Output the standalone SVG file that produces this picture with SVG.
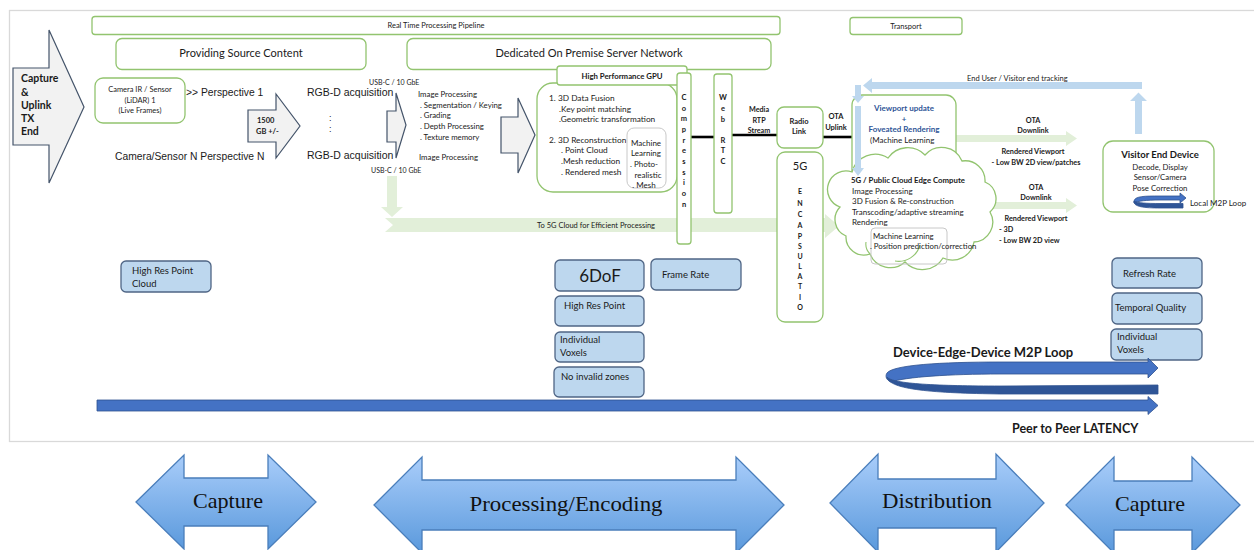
<svg xmlns="http://www.w3.org/2000/svg" width="1254" height="550" viewBox="0 0 1254 550">
<defs>
<style>
.t{font-family:Lato,"Liberation Sans",sans-serif;fill:#1a1a1a}
.a{font-family:"Liberation Sans",Arial,sans-serif;fill:#1a1a1a}
.b{font-weight:bold}
.g{fill:#fff;stroke:#92c46f;stroke-width:1.3}
.bb{fill:#bdd7ee;stroke:#4f6585;stroke-width:1.3}
.gr{fill:#f2f2f2;stroke:#44546a;stroke-width:1.2}
.lg{fill:#e2efd9;stroke:none}
.lb{fill:#bdd7ee;stroke:none}
.blk{stroke:#000;stroke-width:2.6}
.da{fill:url(#gb);stroke:#4a7ebb;stroke-width:1.3}
.ser{font-family:"Liberation Serif","DejaVu Serif",serif;fill:#111;font-size:21px}
</style>
<linearGradient id="gb" x1="0" y1="0" x2="0" y2="1">
<stop offset="0" stop-color="#a9cdfa"/>
<stop offset="1" stop-color="#5a99dc"/>
</linearGradient>
</defs>
<rect width="1254" height="550" fill="#fff"/>
<rect x="9.5" y="10.5" width="1260" height="431" fill="none" stroke="#d9d9d9" stroke-width="1.3"/>

<g id="capture-uplink">
<path class="gr" d="M13,68 L49,68 L49,30 L84,107 L49,183 L49,145 L13,145 Z"/>
<text class="t b" font-size="10.5"><tspan x="21" y="82">Capture</tspan><tspan x="21" y="96">&amp;</tspan><tspan x="21" y="109">Uplink</tspan><tspan x="21" y="122">TX</tspan><tspan x="21" y="135">End</tspan></text>
</g>

<g id="pipeline">
<rect class="g" x="92" y="16.5" width="688" height="18" rx="3"/>
<text class="t" font-size="7.5" x="436" y="28" text-anchor="middle">Real Time Processing Pipeline</text>
</g>
<g id="transport">
<rect class="g" x="850" y="17.5" width="112" height="17" rx="3"/>
<text class="t" font-size="7.5" x="906" y="28.5" text-anchor="middle">Transport</text>
</g>
<g id="source-content">
<rect class="g" x="116" y="38.5" width="250" height="31" rx="6"/>
<text class="t" font-size="11" x="241" y="57" text-anchor="middle">Providing Source Content</text>
</g>
<g id="server-network">
<rect class="g" x="407" y="38.5" width="364" height="31" rx="6"/>
<text class="t" font-size="11" x="589" y="57" text-anchor="middle">Dedicated On Premise Server Network</text>
</g>

<g id="camera">
<rect class="g" x="95" y="78" width="90" height="45" rx="8"/>
<text class="t" font-size="7.5" text-anchor="middle"><tspan x="140" y="92">Camera IR / Sensor</tspan><tspan x="140" y="103">(LiDAR) 1</tspan><tspan x="140" y="113">(Live Frames)</tspan></text>
</g>
<g id="perspectives">
<text class="a" font-size="10.3" x="186" y="96">&gt;&gt; Perspective 1</text>
<text class="a" font-size="10.3" x="115" y="160">Camera/Sensor N  Perspective N</text>
</g>
<g id="arrow-1500">
<path class="gr" d="M248,110 L276,110 L276,94 L300,126 L276,158 L276,142 L248,142 Z"/>
<text class="t b" font-size="7.5"><tspan x="257" y="123">1500</tspan><tspan x="256" y="134">GB +/-</tspan></text>
</g>
<g id="rgbd">
<text class="a" font-size="10.5" x="307" y="96">RGB-D acquisition</text>
<text class="a" font-size="10.5" x="307" y="159">RGB-D acquisition</text>
<text class="a" font-size="9" x="329" y="121">:</text>
<text class="a" font-size="9" x="329" y="132">:</text>
<text class="t" font-size="7" x="369" y="85">USB-C / 10 GbE</text>
<text class="t" font-size="7" x="371" y="173">USB-C / 10 GbE</text>
</g>
<g id="arrow-rgbd">
<path class="gr" d="M387,111 L396,111 L396,93 L406,125 L396,158 L396,142 L387,142 Z"/>
</g>
<g id="image-processing">
<text class="t" font-size="7.8"><tspan x="418" y="97">Image Processing</tspan><tspan x="420" y="108">. Segmentation / Keying</tspan><tspan x="420" y="118">. Grading</tspan><tspan x="420" y="129">. Depth Processing</tspan><tspan x="420" y="140">. Texture memory</tspan><tspan x="419" y="160">Image Processing</tspan></text>
</g>
<g id="arrow-gpu">
<path class="gr" d="M501,117 L518,117 L518,98 L535,135 L518,173 L518,153 L501,153 Z"/>
</g>

<g id="connectors">
<path class="lg" d="M387,176 L397,176 L397,207 L403,207 L392,217 L381,207 L387,207 Z"/>
<path class="lg" d="M385,218 L825,218 L825,214 L839,226 L825,238 L825,232 L385,232 L393,225 Z"/>
<line class="blk" x1="691" y1="137" x2="714" y2="137"/>
<line class="blk" x1="732" y1="135" x2="777" y2="135"/>
<line class="blk" x1="823" y1="137" x2="852" y2="137"/>
<path class="lg" d="M953,135 L1066,135 L1066,131 L1077,138.5 L1066,146 L1066,142 L953,142 Z"/>
<path class="lg" d="M988,202 L1066,202 L1066,198 L1077,205.5 L1066,213 L1066,209 L988,209 Z"/>
</g>
<text class="t" font-size="7.5" x="596" y="228" text-anchor="middle">To 5G Cloud for Efficient Processing</text>

<g id="gpu">
<rect class="g" x="537" y="83" width="140" height="109" rx="16"/>
<rect class="g" x="557" y="66" width="130" height="19" rx="3"/>
<text class="t b" font-size="7.8" x="622" y="78.5" text-anchor="middle">High Performance GPU</text>
<text class="t" font-size="8.3"><tspan x="549" y="101">1. 3D Data Fusion</tspan><tspan x="559" y="112">.Key point matching</tspan><tspan x="559" y="122">.Geometric transformation</tspan><tspan x="549" y="143">2. 3D Reconstruction</tspan><tspan x="561" y="153">. Point Cloud</tspan><tspan x="561" y="164">.Mesh reduction</tspan><tspan x="561" y="175">. Rendered mesh</tspan></text>
<rect x="627" y="128" width="39" height="60" rx="7" fill="#fff" stroke="#c8c8c8" stroke-width="1"/>
<text class="t" font-size="8" text-anchor="middle"><tspan x="646" y="146">Machine</tspan><tspan x="646" y="156">Learning</tspan><tspan x="644" y="167">. Photo-</tspan><tspan x="648" y="178">realistic</tspan><tspan x="644" y="188">. Mesh</tspan></text>
</g>

<g id="compression">
<rect class="g" x="677" y="73" width="14" height="171" rx="3"/>
<text class="t b" font-size="7.5" text-anchor="middle"><tspan x="684" y="100">C</tspan><tspan x="684" y="111">o</tspan><tspan x="684" y="121">m</tspan><tspan x="684" y="132">p</tspan><tspan x="684" y="143">r</tspan><tspan x="684" y="153">e</tspan><tspan x="684" y="164">s</tspan><tspan x="684" y="175">s</tspan><tspan x="684" y="185">i</tspan><tspan x="684" y="196">o</tspan><tspan x="684" y="207">n</tspan></text>
</g>
<g id="webrtc">
<rect class="g" x="714" y="74" width="18" height="139" rx="3"/>
<text class="t b" font-size="7.5" text-anchor="middle"><tspan x="723" y="100">W</tspan><tspan x="723" y="111">e</tspan><tspan x="723" y="122">b</tspan><tspan x="723" y="143">R</tspan><tspan x="723" y="153">T</tspan><tspan x="723" y="164">C</tspan></text>
</g>
<text class="t b" font-size="7.2" text-anchor="middle"><tspan x="759" y="112">Media</tspan><tspan x="759" y="123">RTP</tspan><tspan x="759" y="133">Stream</tspan></text>

<g id="radio-link">
<rect class="g" x="777" y="107" width="46" height="41" rx="7"/>
<text class="t b" font-size="7.5" text-anchor="middle"><tspan x="799" y="124">Radio</tspan><tspan x="799" y="134">Link</tspan></text>
</g>
<text class="t b" font-size="7.5" text-anchor="middle"><tspan x="836" y="119">OTA</tspan><tspan x="836" y="130">Uplink</tspan></text>

<g id="encapsulation">
<rect class="g" x="777" y="152" width="46" height="170" rx="8"/>
<text class="t" font-size="11" x="800" y="170" text-anchor="middle">5G</text>
<text class="t b" font-size="7" text-anchor="middle"><tspan x="800" y="194">E</tspan><tspan x="800" y="206">N</tspan><tspan x="800" y="217">C</tspan><tspan x="800" y="228">A</tspan><tspan x="800" y="239">P</tspan><tspan x="800" y="249">S</tspan><tspan x="800" y="259">U</tspan><tspan x="800" y="269">L</tspan><tspan x="800" y="279">A</tspan><tspan x="800" y="289">T</tspan><tspan x="800" y="300">I</tspan><tspan x="800" y="310">O</tspan></text>
</g>

<g id="viewport">
<rect class="g" x="852" y="95" width="104" height="95" rx="10"/>
<text class="t b" font-size="8" text-anchor="middle" style="fill:#2f5597"><tspan x="904" y="111">Viewport update</tspan><tspan x="904" y="122">+</tspan><tspan x="904" y="132">Foveated Rendering</tspan></text>
<text class="t" font-size="8" x="870" y="143">(Machine Learning</text>
</g>

<g id="edge-cloud">
<path class="g" d="M840,207 A18,18 0 0 1 852,172 A24,24 0 0 1 888,158 A24,24 0 0 1 925,155 A22,22 0 0 1 962,161 A20,20 0 0 1 985,182 A18,18 0 0 1 990,212 A20,20 0 0 1 974,242 A22,22 0 0 1 943,258 A24,24 0 0 1 905,262 A22,22 0 0 1 870,254 A18,18 0 0 1 846,236 A18,18 0 0 1 840,207 Z"/>
<path d="M895,261 A22,22 0 0 0 920,245 M870,254 A14,14 0 0 1 866,242" fill="none" stroke="#92c46f" stroke-width="1.1"/>
<text class="t b" font-size="7.8" x="851" y="183">5G / Public Cloud Edge Compute</text>
<text class="t" font-size="8"><tspan x="852" y="194">Image Processing</tspan><tspan x="852" y="204">3D Fusion &amp; Re-construction</tspan><tspan x="852" y="215">Transcoding/adaptive streaming</tspan><tspan x="852" y="225">Rendering</tspan></text>
<rect x="871" y="228" width="76" height="36" rx="4" fill="none" stroke="#c8c8c8" stroke-width="1"/>
<text class="t" font-size="7.8"><tspan x="873" y="239">Machine Learning</tspan><tspan x="870" y="249">. Position prediction/correction</tspan></text>
</g>

<g id="tracking-arrows">
<path class="lb" d="M1142,82 L872,82 L872,78 L863,85.5 L872,93 L872,89 L1142,89 Z"/>
<path class="lb" d="M1135,134 L1135,101 L1130,101 L1138.5,92.5 L1147,101 L1142,101 L1142,134 Z"/>
<path class="lb" d="M855,85 L861,85 L861,96 L864,96 L858,103 L852,96 L855,96 Z"/>
<path class="lb" d="M855,106 L861,106 L861,168 L864,168 L858,176 L852,168 L855,168 Z"/>
<text class="t" font-size="7.5" x="967" y="81">End User / Visitor end tracking</text>
</g>

<g id="downlink-labels">
<text class="t b" font-size="7.3" text-anchor="middle"><tspan x="1033" y="123">OTA</tspan><tspan x="1033" y="133">Downlink</tspan><tspan x="1033" y="154">Rendered Viewport</tspan><tspan x="1036" y="165">- Low BW 2D view/patches</tspan><tspan x="1036" y="190">OTA</tspan><tspan x="1036" y="200">Downlink</tspan><tspan x="1036" y="221">Rendered Viewport</tspan></text>
<text class="t b" font-size="7.3"><tspan x="999" y="232">- 3D</tspan><tspan x="999" y="243">- Low BW 2D view</tspan></text>
</g>

<g id="visitor-device">
<rect class="g" x="1103" y="141" width="111" height="71" rx="10"/>
<text class="t b" font-size="9.5" x="1160" y="158" text-anchor="middle">Visitor End Device</text>
<text class="t" font-size="7.8" text-anchor="middle"><tspan x="1160" y="170">Decode, Display</tspan><tspan x="1160" y="180">Sensor/Camera</tspan><tspan x="1160" y="191">Pose Correction</tspan></text>
<path d="M1134,201 C1135,196 1145,196 1160,196 L1180,196 L1180,193 L1186,198 L1180,203 L1180,200 L1160,200 C1146,200 1138,201 1134,203 Z" fill="#4472c4" stroke="#2f528f" stroke-width="0.8"/>
<path d="M1134,201 C1133,207 1145,208 1160,208 L1183,208 L1183,203.5 L1160,203.5 C1147,203.5 1137,203 1134,201 Z" fill="#2f5597" stroke="#2f528f" stroke-width="0.8"/>
<text class="t" font-size="8" x="1190" y="206">Local M2P Loop</text>
</g>

<g id="metric-boxes">
<rect class="bb" x="121" y="261" width="90" height="31" rx="5"/>
<text class="t" font-size="9.5"><tspan x="132" y="274">High Res Point</tspan><tspan x="132" y="287">Cloud</tspan></text>
<rect class="bb" x="555" y="260" width="89" height="31" rx="5"/>
<text class="t" font-size="17" x="600" y="282" text-anchor="middle">6DoF</text>
<rect class="bb" x="651" y="259" width="90" height="31" rx="5"/>
<text class="t" font-size="9.5" x="662" y="278">Frame Rate</text>
<rect class="bb" x="555" y="296" width="89" height="30" rx="5"/>
<text class="t" font-size="9.5" x="564" y="309">High Res Point</text>
<rect class="bb" x="555" y="332" width="89" height="30" rx="5"/>
<text class="t" font-size="9.5"><tspan x="560" y="343">Individual</tspan><tspan x="560" y="356">Voxels</tspan></text>
<rect class="bb" x="554" y="367" width="90" height="30" rx="5"/>
<text class="t" font-size="9.5" x="561" y="380">No invalid zones</text>
<rect class="bb" x="1112" y="258" width="90" height="30" rx="5"/>
<text class="t" font-size="9.5" x="1123" y="277">Refresh Rate</text>
<rect class="bb" x="1112" y="293" width="90" height="31" rx="5"/>
<text class="t" font-size="9.5" x="1115" y="311">Temporal Quality</text>
<rect class="bb" x="1111" y="329" width="91" height="31" rx="5"/>
<text class="t" font-size="9.5"><tspan x="1117" y="340">Individual</tspan><tspan x="1117" y="353">Voxels</tspan></text>
</g>

<g id="latency-arrows">
<text class="t b" font-size="13" x="893" y="357">Device-Edge-Device M2P Loop</text>
<path d="M887,373 C893,365 940,362 1000,362 L1148,362 L1148,358 L1158,368 L1148,378 L1148,374 L1000,374 C950,374 905,377 891,382 C886,380 885,376 887,373 Z" fill="#4472c4" stroke="#2f528f" stroke-width="0.8"/>
<path d="M887,377 C892,384 940,386 1000,386 L1158,385 L1158,394 L1000,394 C935,393 889,390 887,377 Z" fill="#2f5597" stroke="#2f528f" stroke-width="0.8"/>
<path d="M97,400 L1148,400 L1148,396.5 L1158,405.5 L1148,414.5 L1148,411 L97,411 Z" fill="#4472c4" stroke="#2f528f" stroke-width="0.8"/>
<text class="t b" font-size="12.5" x="1012" y="433">Peer to Peer LATENCY</text>
</g>

<g id="phase-capture-1">
<path class="da" d="M136,502 L184,455 L184,478 L268,478 L268,455 L316,502 L268,549 L268,526 L184,526 L184,549 Z"/>
<text class="ser" x="228" y="508" text-anchor="middle" textLength="70" lengthAdjust="spacingAndGlyphs">Capture</text>
</g>
<g id="phase-processing">
<path class="da" d="M374,505 L422,457 L422,480 L736,480 L736,457 L784,505 L736,553 L736,530 L422,530 L422,553 Z"/>
<text class="ser" x="566" y="511" text-anchor="middle" textLength="193" lengthAdjust="spacingAndGlyphs">Processing/Encoding</text>
</g>
<g id="phase-distribution">
<path class="da" d="M830,503 L878,454 L878,479 L996,479 L996,454 L1044,503 L996,552 L996,528 L878,528 L878,552 Z"/>
<text class="ser" x="937" y="508" text-anchor="middle" textLength="110" lengthAdjust="spacingAndGlyphs">Distribution</text>
</g>
<g id="phase-capture-2">
<path class="da" d="M1066,505 L1114,457 L1114,481 L1192,481 L1192,457 L1240,505 L1192,553 L1192,530 L1114,530 L1114,553 Z"/>
<text class="ser" x="1150" y="511" text-anchor="middle" textLength="70" lengthAdjust="spacingAndGlyphs">Capture</text>
</g>
</svg>
